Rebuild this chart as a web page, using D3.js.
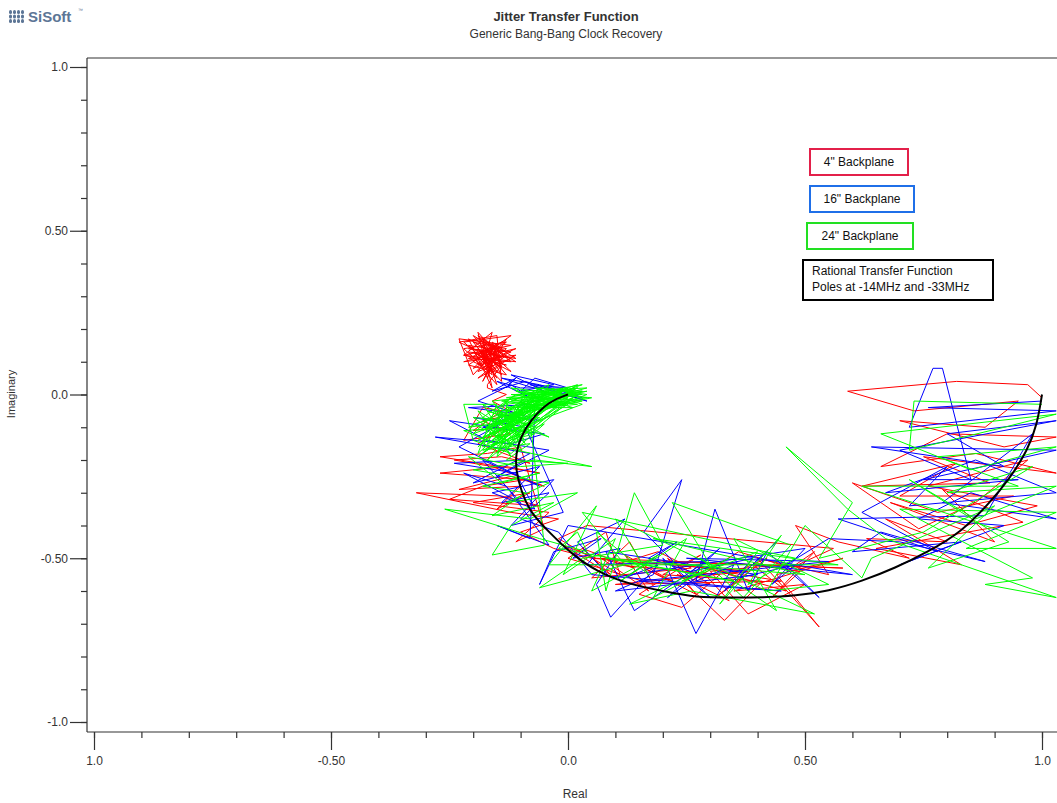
<!DOCTYPE html>
<html>
<head>
<meta charset="utf-8">
<script src="https://cdn.jsdelivr.net/npm/d3@7"></script>
<style>
body { margin: 0; background: #fff; }
text { font-family: "Liberation Sans", Arial, sans-serif; fill: #333; }
</style>
</head>
<body>
<div id="chart-div"></div>
<script>
// [real, imaginary] pairs, from DC (re = 1) to the end of each trace
const red4 = [
  [1.00,-0.01],[0.97,0.03],[0.82,0.04],[0.59,0.01],[0.73,-0.05],[0.95,-0.02],[0.88,-0.10],[0.70,-0.08],
  [0.92,-0.16],[1.03,-0.13],[0.80,-0.12],[0.66,-0.22],[0.86,-0.18],[1.03,-0.24],[0.75,-0.19],[0.89,-0.27],
  [0.62,-0.28],[0.82,-0.21],[0.70,-0.31],[0.94,-0.31],[0.78,-0.36],[0.60,-0.27],[0.74,-0.41],[0.86,-0.33],
  [0.97,-0.20],[0.76,-0.28],[0.99,-0.34],[0.84,-0.40],[0.68,-0.33],[0.90,-0.45],[0.79,-0.29],[0.96,-0.39],
  [0.65,-0.47],[0.83,-0.52],[0.67,-0.38],[0.80,-0.45],[0.63,-0.44],[0.72,-0.50],
  [0.57,-0.45],[0.48,-0.40],[0.55,-0.55],[0.40,-0.50],[0.53,-0.71],[0.44,-0.55],[0.58,-0.50],[0.35,-0.60],
  [0.50,-0.58],[0.38,-0.67],[0.30,-0.54],[0.45,-0.52],[0.36,-0.48],[0.25,-0.58],[0.33,-0.69],[0.41,-0.57],
  [0.20,-0.55],[0.28,-0.49],[0.15,-0.61],[0.24,-0.65],[0.32,-0.55],[0.10,-0.52],[0.19,-0.48],[0.26,-0.53],
  [0.05,-0.56],[0.13,-0.45],[0.18,-0.58],[0.00,-0.50],[0.08,-0.42],[0.11,-0.55],[-0.02,-0.44],[0.04,-0.40],
  [0.56,-0.47],[0.47,-0.53],[0.52,-0.48],[0.43,-0.62],[0.49,-0.54],[0.39,-0.52],[0.46,-0.60],[0.34,-0.55],
  [0.42,-0.50],[0.31,-0.62],[0.37,-0.56],[0.27,-0.52],[0.34,-0.63],[0.23,-0.55],[0.30,-0.58],[0.21,-0.50],
  [0.27,-0.61],[0.16,-0.53],[0.22,-0.57],[0.12,-0.49],[0.17,-0.60],[0.07,-0.50],[0.14,-0.53],[0.03,-0.47],
  [0.09,-0.55],[-0.01,-0.46],[0.06,-0.50],
  [0.58,-0.53],[0.20,-0.51],[0.45,-0.57],[0.10,-0.58],[0.38,-0.54],[0.05,-0.50],
  [-0.03,-0.47],[-0.10,-0.42],[-0.02,-0.38],[-0.12,-0.36],[-0.32,-0.30],[-0.14,-0.31],[-0.06,-0.34],[-0.25,-0.32],
  [-0.18,-0.28],[-0.09,-0.26],[-0.27,-0.24],[-0.13,-0.22],[-0.06,-0.24],[-0.27,-0.19],[-0.17,-0.18],[-0.10,-0.16],
  [-0.05,-0.41],[-0.11,-0.45],[-0.04,-0.36],[-0.20,-0.33],[-0.08,-0.30],[-0.15,-0.35],[-0.10,-0.28],[-0.23,-0.29],
  [-0.12,-0.25],[-0.05,-0.28],[-0.16,-0.22],[-0.24,-0.20],[-0.14,-0.19],[-0.08,-0.21],[-0.19,-0.15],[-0.13,-0.10],
  [-0.20,-0.11],[-0.14,-0.05],[-0.18,-0.04],
  [-0.22,-0.14],[-0.12,-0.12],[-0.18,-0.08],[-0.11,-0.06],[-0.16,-0.02],[-0.13,0.00],[-0.17,0.02],
  [-0.17,0.03],[-0.14,0.09],[-0.19,0.05],[-0.13,0.12],[-0.20,0.08],[-0.15,0.15],[-0.21,0.11],[-0.12,0.10],
  [-0.18,0.17],[-0.16,0.06],[-0.22,0.14],[-0.13,0.16],[-0.19,0.09],[-0.11,0.14],[-0.17,0.12],[-0.23,0.16],
  [-0.15,0.18],[-0.14,0.04],[-0.20,0.13],[-0.12,0.07],[-0.18,0.15],[-0.16,0.02],[-0.21,0.17],[-0.14,0.11],
  [-0.19,0.19],[-0.17,0.07],[-0.11,0.12],[-0.22,0.10],[-0.15,0.13],[-0.18,0.04],[-0.13,0.17],[-0.20,0.06],
  [-0.23,0.17],[-0.12,0.15],[-0.22,0.12],[-0.11,0.10],[-0.20,0.18],[-0.13,0.06],[-0.21,0.09],[-0.12,0.18],
  [-0.22,0.16],[-0.14,0.06],[-0.19,0.18],[-0.11,0.11],[-0.21,0.13],[-0.15,0.03],[-0.18,0.16],[-0.13,0.13],
  [-0.16,0.16],[-0.14,0.08],[-0.21,0.15],[-0.12,0.13],[-0.17,0.10],[-0.19,0.14],[-0.15,0.05],[-0.18,0.11],
  [-0.13,0.09],[-0.22,0.12],[-0.16,0.19],[-0.17,0.14],[-0.14,0.16],[-0.20,0.10],[-0.15,0.07],[-0.18,0.13],
  [-0.12,0.11],[-0.19,0.07],[-0.16,0.13],[-0.21,0.14],[-0.14,0.13],[-0.17,0.16],[-0.15,0.11],[-0.18,0.08],
  [-0.13,0.14],[-0.20,0.16],[-0.16,0.09],[-0.17,0.05],[-0.15,0.15],[-0.19,0.12],[-0.14,0.10],[-0.18,0.17],
  [-0.16,0.11],[-0.17,0.08],[-0.16,0.14],[-0.18,0.10],[-0.15,0.12],[-0.17,0.13]
];
const blue16 = [
  [1.00,-0.02],[0.76,-0.04],[1.03,-0.05],[0.72,-0.10],[0.77,0.08],[0.79,0.08],[0.85,-0.26],[0.70,-0.17],
  [1.03,-0.08],[0.80,-0.12],[0.92,-0.22],[0.64,-0.16],[1.03,-0.17],[0.75,-0.26],[0.95,-0.26],[0.67,-0.30],
  [0.86,-0.20],[1.03,-0.30],[0.72,-0.34],[0.80,-0.22],[0.62,-0.36],[0.78,-0.48],[0.57,-0.38],[0.88,-0.37],
  [0.98,-0.12],[0.79,-0.33],[1.03,-0.38],[0.85,-0.30],[0.74,-0.38],[0.92,-0.40],[0.70,-0.52],[0.83,-0.45],
  [0.60,-0.48],[0.66,-0.42],[0.88,-0.51],[0.70,-0.45],
  [0.55,-0.44],[0.46,-0.52],[0.53,-0.62],[0.42,-0.48],[0.38,-0.60],[0.31,-0.35],[0.27,-0.57],[0.35,-0.52],
  [0.27,-0.73],[0.20,-0.50],[0.30,-0.62],[0.16,-0.42],[0.24,-0.26],[0.18,-0.55],[0.10,-0.60],[0.22,-0.58],
  [0.40,-0.55],[0.08,-0.48],[0.14,-0.66],[0.29,-0.51],[0.04,-0.52],[0.12,-0.38],[0.02,-0.45],[0.09,-0.56],
  [0.50,-0.47],[0.43,-0.58],[0.48,-0.52],[0.36,-0.56],[0.44,-0.45],[0.33,-0.60],[0.39,-0.50],[0.26,-0.54],
  [0.32,-0.47],[0.21,-0.62],[0.28,-0.55],[0.17,-0.50],[0.23,-0.45],[0.12,-0.56],[0.19,-0.52],[0.09,-0.68],
  [0.06,-0.58],[0.11,-0.47],[0.01,-0.50],[0.07,-0.44],[-0.03,-0.48],[-0.06,-0.58],[0.00,-0.40],
  [0.60,-0.55],[0.25,-0.50],[0.55,-0.51],[0.15,-0.57],[0.45,-0.60],[0.05,-0.55],
  [-0.02,-0.42],[-0.10,-0.38],[-0.04,-0.30],[-0.14,-0.33],[-0.06,-0.22],[-0.20,-0.27],[-0.08,-0.18],[-0.28,-0.13],
  [-0.12,-0.15],[-0.05,-0.12],[-0.18,-0.10],[-0.10,-0.06],[-0.21,-0.04],[-0.07,-0.03],
  [-0.08,-0.44],[-0.15,-0.40],[-0.04,-0.46],[-0.13,-0.28],[-0.22,-0.24],[-0.10,-0.33],[-0.18,-0.20],[-0.06,-0.28],
  [-0.23,-0.16],[-0.13,-0.08],[-0.20,-0.07],[-0.09,-0.10],
  [-0.01,-0.36],[-0.12,-0.40],[-0.03,-0.26],[-0.16,-0.30],[-0.07,-0.35],[-0.11,-0.24],[-0.24,-0.21],[-0.09,-0.20],
  [-0.15,-0.25],[-0.04,-0.17],[-0.17,-0.14],[-0.25,-0.08],[-0.11,-0.11],[-0.15,-0.06],[-0.06,-0.08],[-0.19,-0.02],
  [-0.12,0.03],[-0.08,-0.01],[-0.15,0.04],[-0.10,0.02],[-0.02,0.02],[0.03,-0.01],[-0.06,0.03],[-0.14,0.05],
  [-0.05,0.01],[-0.12,0.06],[-0.03,0.03],[-0.10,0.01],[-0.07,0.05],[0.00,0.02],[-0.08,0.03],[0.04,-0.02],
  [-0.09,0.04],[-0.16,0.01],[-0.11,0.05],[-0.13,0.02],[-0.12,0.04]
];
const green24 = [
  [1.00,-0.03],[0.73,-0.02],[0.72,-0.17],[0.92,-0.10],[1.03,-0.06],[0.66,-0.12],[0.85,-0.23],[1.03,-0.16],
  [0.78,-0.19],[0.95,-0.28],[0.62,-0.28],[1.03,-0.47],[0.84,-0.47],[1.03,-0.36],[0.70,-0.35],[0.98,-0.56],
  [0.88,-0.58],[1.03,-0.62],[0.67,-0.44],[0.59,-0.35],[0.46,-0.16],[0.60,-0.33],[0.53,-0.50],[0.75,-0.42],
  [0.98,-0.22],[0.80,-0.30],[1.03,-0.28],[0.86,-0.38],[0.72,-0.26],[0.93,-0.45],[0.76,-0.53],[0.90,-0.34],
  [0.64,-0.50],[0.62,-0.56],
  [0.50,-0.40],[0.42,-0.60],[0.55,-0.58],[0.35,-0.44],[0.44,-0.66],[0.28,-0.50],[0.37,-0.62],[0.47,-0.46],
  [0.22,-0.33],[0.30,-0.52],[0.13,-0.64],[0.26,-0.60],[0.52,-0.67],[0.10,-0.38],[0.17,-0.55],[0.06,-0.42],
  [0.08,-0.60],[0.14,-0.30],[0.20,-0.46],[0.03,-0.50],[-0.06,-0.59],[0.12,-0.52],[0.03,-0.36],
  [0.48,-0.50],[0.38,-0.58],[0.45,-0.43],[0.32,-0.64],[0.40,-0.48],[0.24,-0.57],[0.34,-0.50],[0.18,-0.62],
  [0.25,-0.44],[0.11,-0.57],[0.19,-0.49],[0.05,-0.60],[0.10,-0.44],[-0.01,-0.55],[0.06,-0.34],[-0.04,-0.52],
  [0.57,-0.52],[0.18,-0.44],[0.50,-0.55],[0.08,-0.50],[0.35,-0.57],[-0.02,-0.47],
  [0.02,-0.42],
  [0.04,-0.48],[-0.06,-0.44],[-0.26,-0.35],[-0.08,-0.38],[0.02,-0.30],[-0.13,-0.33],[-0.04,-0.27],[-0.20,-0.23],
  [-0.07,-0.20],[0.05,-0.22],[-0.14,-0.16],[-0.22,-0.11],[-0.10,-0.10],[-0.04,-0.13],[-0.15,-0.05],[-0.08,-0.08],
  [-0.05,-0.46],[-0.16,-0.49],[-0.12,-0.40],[-0.03,-0.33],[-0.16,-0.37],[-0.09,-0.30],[-0.18,-0.28],[-0.06,-0.24],
  [-0.14,-0.27],[-0.21,-0.19],[-0.10,-0.22],[0.00,-0.21],[-0.13,-0.20],[-0.08,-0.15],[-0.18,-0.17],[-0.05,-0.09],
  [-0.12,-0.18],[-0.20,-0.14],[-0.22,-0.03],
  [-0.15,-0.03],[-0.19,-0.18],[-0.09,-0.05],[-0.17,-0.20],[-0.08,-0.09],[-0.20,-0.07],[-0.10,-0.17],[-0.13,-0.02],
  [-0.18,-0.16],[-0.07,-0.12],[-0.16,-0.08],[-0.12,-0.19],[-0.19,-0.05],[-0.09,-0.14],[-0.14,-0.06],[-0.17,-0.15],
  [-0.06,-0.07],[-0.21,-0.10],[-0.11,-0.04],[-0.15,-0.19],[-0.08,-0.11],[-0.18,-0.03],[-0.12,-0.16],[-0.16,-0.12],
  [-0.10,-0.07],[-0.19,-0.14],[-0.13,-0.10],[-0.07,-0.05],
  [-0.10,-0.02],[0.02,0.02],[-0.16,-0.10],[-0.04,-0.01],[0.03,-0.02],[-0.12,-0.06],[-0.19,-0.16],[-0.08,-0.04],
  [0.01,0.01],[-0.14,-0.12],[-0.06,0.02],[0.04,0.00],[-0.11,-0.08],[-0.17,-0.05],[-0.07,-0.10],[-0.02,-0.03],
  [-0.15,-0.18],[-0.09,0.01],[0.00,-0.03],[-0.13,-0.14],[-0.20,-0.09],[-0.05,-0.04],[0.02,0.03],[-0.11,-0.03],
  [-0.18,-0.13],[-0.07,-0.06],[-0.01,0.02],[-0.14,-0.08],[-0.09,-0.15],[-0.16,-0.02],[-0.03,0.00],[0.03,-0.03],
  [-0.12,-0.11],[-0.19,-0.19],[-0.08,-0.08],[-0.04,0.03],[-0.15,-0.04],[-0.10,-0.13],[0.01,-0.01],[-0.17,-0.10],
  [-0.06,-0.02],[-0.13,-0.17],[-0.02,0.01],[-0.11,0.00],[-0.18,-0.07],[-0.08,-0.12],[0.02,0.00],[-0.14,-0.15],
  [-0.05,-0.05],[-0.12,-0.01],[-0.20,-0.12],[-0.09,-0.06],[0.00,0.02],[-0.16,-0.14],[-0.07,-0.01],[-0.13,-0.09],
  [-0.13,-0.03],[0.03,0.00],[-0.12,0.00],[0.02,-0.03],[-0.14,-0.05],[0.04,0.02],[-0.10,0.01],[0.01,-0.04],
  [-0.11,-0.04],[0.03,0.03],[-0.13,-0.01],[0.00,-0.01],[-0.09,-0.04],[0.04,-0.01],[-0.12,0.02],[-0.02,-0.04],
  [-0.14,-0.02],[0.02,0.02],[-0.08,-0.05],[0.05,-0.01],[-0.11,0.01],[-0.01,-0.03],[-0.13,-0.04],[0.03,0.01],
  [-0.07,0.02],[0.01,-0.02],[-0.12,-0.02],[0.04,0.01],[-0.10,-0.03],[-0.03,0.02],
  [-0.03,-0.03],[-0.10,-0.10],[-0.17,-0.17],[-0.06,0.01],[0.03,0.01],[-0.15,-0.07],[-0.11,-0.15],[-0.04,-0.02],
  [-0.18,-0.11],[-0.08,0.00],[-0.12,-0.07],[-0.01,-0.02],[-0.14,-0.11],[-0.09,-0.03],[-0.16,-0.16],[-0.05,0.00],
  [-0.10,-0.05],[-0.13,-0.13],[-0.02,0.00],[-0.07,-0.03],[-0.15,-0.09],[-0.04,0.01],[-0.11,-0.09],[0.01,0.00],
  [-0.08,-0.02],[-0.03,0.01],[-0.01,0.00],[0.00,0.00]
];
const rational = [
  [1.00,0.00],[0.99,-0.09],[0.97,-0.17],[0.93,-0.26],[0.89,-0.33],[0.83,-0.42],[0.76,-0.48],[0.69,-0.53],
  [0.62,-0.57],[0.55,-0.60],[0.48,-0.615],[0.41,-0.62],[0.35,-0.62],[0.27,-0.62],[0.20,-0.60],[0.13,-0.58],
  [0.06,-0.54],[0.01,-0.49],[-0.04,-0.42],[-0.08,-0.36],[-0.10,-0.29],[-0.11,-0.23],[-0.11,-0.18],[-0.10,-0.13],
  [-0.08,-0.08],[-0.04,-0.02],[0.00,0.00]
];

const xMajor = [-1, -0.5, 0, 0.5, 1];
const xLabels = ["1.0", "-0.50", "0.0", "0.50", "1.0"];
const yMajor = [1, 0.5, 0, -0.5, -1];
const yLabels = ["1.0", "0.50", "0.0", "-0.50", "-1.0"];
const minorTicks = d3.range(-10, 11).map(d => d / 10);

const legendNames = ['4" Backplane', '16" Backplane', '24" Backplane'];
const legendColors = ["#e3204a", "#1f6fe8", "#22e022"];
const noteLines = ["Rational Transfer Function", "Poles at -14MHz and -33MHz"];

const width = 1057;
const height = 803;
const plot = { left: 87, top: 58, right: 1057, bottom: 732 };

const xScale = d3.scaleLinear().domain([-1, 1]).range([94, 1042]);
const yScale = d3.scaleLinear().domain([-1, 1]).range([722, 67]);

const svg = d3.select("#chart-div")
              .append("svg")
              .attr("width", width)
              .attr("height", height);

// logo
const logo = svg.append("g").attr("fill", "#5d7696");
[9, 13, 17, 21].forEach(x => {
  [10, 14.5, 19].forEach(y => {
    logo.append("rect").attr("x", x).attr("y", y).attr("width", 3).attr("height", 4).attr("rx", 1.5);
  });
});
svg.append("text").attr("x", 28).attr("y", 22)
   .style("font-size", "15px").style("font-weight", "bold").style("fill", "#5d7696")
   .text("SiSoft");
svg.append("text").attr("x", 78).attr("y", 12)
   .style("font-size", "5px").style("fill", "#5d7696").text("™");

// titles
svg.append("text").attr("x", 566).attr("y", 21).attr("text-anchor", "middle")
   .style("font-size", "13px").style("font-weight", "bold").text("Jitter Transfer Function");
svg.append("text").attr("x", 566).attr("y", 38).attr("text-anchor", "middle")
   .style("font-size", "12px").text("Generic Bang-Bang Clock Recovery");

// clip for traces
svg.append("clipPath").attr("id", "plot-clip")
   .append("rect").attr("x", plot.left).attr("y", plot.top)
   .attr("width", plot.right - plot.left).attr("height", plot.bottom - plot.top);

const line = d3.line().x(d => xScale(d[0])).y(d => yScale(d[1]));
const traces = svg.append("g").attr("clip-path", "url(#plot-clip)");

[[red4, "#ff0000"], [blue16, "#0000ff"], [green24, "#00ff00"]].forEach(([pts, col]) => {
  traces.append("path").datum(pts)
        .attr("d", line)
        .attr("fill", "none")
        .attr("stroke", col)
        .attr("stroke-width", 1)
        .attr("stroke-linejoin", "miter");
});

traces.append("path").datum(rational)
      .attr("d", d3.line().x(d => xScale(d[0])).y(d => yScale(d[1])).curve(d3.curveBasis))
      .attr("fill", "none")
      .attr("stroke", "#000")
      .attr("stroke-width", 2);

// frame
const frame = svg.append("g").attr("stroke", "#333").attr("stroke-width", 1.2);
frame.append("line").attr("x1", plot.left).attr("x2", plot.left).attr("y1", plot.top).attr("y2", plot.bottom);
frame.append("line").attr("x1", plot.left).attr("x2", plot.right).attr("y1", plot.top).attr("y2", plot.top);
frame.append("line").attr("x1", plot.left).attr("x2", plot.right).attr("y1", plot.bottom).attr("y2", plot.bottom);

// axes
svg.append("g").attr("transform", `translate(${plot.left},0)`)
   .call(d3.axisLeft(yScale).tickValues(yMajor).tickSize(17).tickPadding(2)
          .tickFormat((d, i) => yLabels[i]));
svg.append("g").attr("transform", `translate(${plot.left},0)`)
   .call(d3.axisLeft(yScale).tickValues(minorTicks).tickSize(6).tickFormat(""));

svg.append("g").attr("transform", `translate(0,${plot.bottom})`)
   .call(d3.axisBottom(xScale).tickValues(xMajor).tickSize(18).tickPadding(6)
          .tickFormat((d, i) => xLabels[i]));
svg.append("g").attr("transform", `translate(0,${plot.bottom})`)
   .call(d3.axisBottom(xScale).tickValues(minorTicks).tickSize(6).tickFormat(""));

svg.selectAll(".domain").remove();
svg.selectAll(".tick line").attr("stroke", "#333").attr("stroke-width", 1.2);
svg.selectAll(".tick text").style("font-size", "12px").attr("fill", "#333")
   .style("font-family", '"Liberation Sans", Arial, sans-serif');

svg.append("text").attr("transform", "translate(15,394) rotate(-90)")
   .attr("text-anchor", "middle").style("font-size", "11px").text("Imaginary");
svg.append("text").attr("x", 575).attr("y", 798).attr("text-anchor", "middle")
   .style("font-size", "12px").text("Real");

// legend boxes
const legendBoxes = [
  { x: 810, y: 149, w: 98 },
  { x: 810, y: 186, w: 104 },
  { x: 807, y: 223, w: 106 }
];
legendNames.forEach((name, i) => {
  const b = legendBoxes[i];
  svg.append("rect").attr("x", b.x).attr("y", b.y).attr("width", b.w).attr("height", 26)
     .attr("fill", "#fff").attr("stroke", legendColors[i]).attr("stroke-width", 2);
  svg.append("text").attr("x", b.x + b.w / 2).attr("y", b.y + 17).attr("text-anchor", "middle")
     .style("font-size", "12px").style("fill", "#111").text(name);
});
svg.append("rect").attr("x", 803).attr("y", 260).attr("width", 190).attr("height", 40)
   .attr("fill", "#fff").attr("stroke", "#000").attr("stroke-width", 2);
noteLines.forEach((t, i) => {
  svg.append("text").attr("x", 812).attr("y", 275 + i * 16)
     .style("font-size", "12px").style("fill", "#111").text(t);
});
</script>
</body>
</html>
